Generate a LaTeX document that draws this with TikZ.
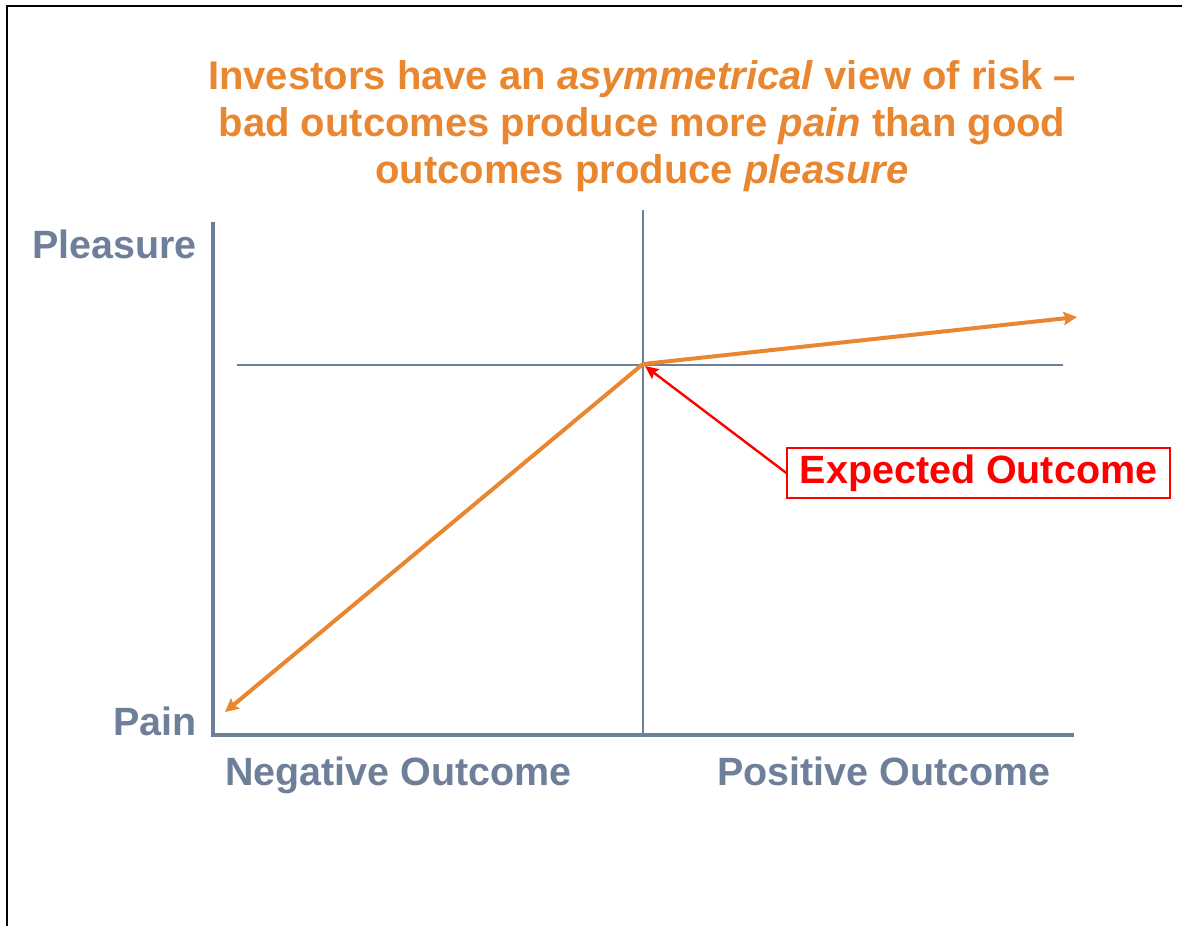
\documentclass[tikz,border=0pt]{standalone}
\usepackage{fontspec}
\setmainfont{Liberation Sans}
\usetikzlibrary{arrows.meta}
\definecolor{riskorange}{RGB}{233,135,48}
\definecolor{axisgray}{RGB}{110,127,153}

\begin{document}
\begin{tikzpicture}[
      x=0.75pt, y=-0.75pt,
      >=Stealth,
      headline/.style={
        align=center,
        inner sep=0pt,
        text=riskorange,
        font=\fontsize{30}{35.25}\selectfont\bfseries,
      },
      axislabel/.style={
        inner sep=0pt,
        text=axisgray,
        font=\fontsize{29.6}{35.25}\selectfont\bfseries,
      },
      axisline/.style={
        draw=axisgray,
        line width=2.3pt,
      },
      guideline/.style={
        draw=axisgray,
        line width=1pt,
      },
      curve/.style={
        draw=riskorange,
        line width=3pt,
        -{Stealth[length=10pt,width=10pt,inset=1.5pt]},
      },
      callout/.style={
        rectangle,
        draw=red,
        line width=1.2pt,
        text=red,
        minimum width=287pt,
        minimum height=37.5pt,
        font=\fontsize{29.6}{35.25}\selectfont\bfseries,
      }
    ]
      \useasboundingbox (0,0) rectangle (1182,926);

      % frame of the slide
      \draw[line width=1.6pt] (7,926) -- (7,6) -- (1182,6);

      % title
      \node[headline, anchor=north] (title) at (642,60)
        {Investors have an \textit{asymmetrical} view of risk --\\
         bad outcomes produce more \textit{pain} than good\\
         outcomes produce \textit{pleasure}};

      % axes and guides
      \coordinate (ytop) at (213,222);
      \coordinate (corner) at (213,735);
      \coordinate (xend) at (1074,735);
      \coordinate (vtop) at (643,210);
      \coordinate (vbot) at (643,735);
      \coordinate (hleft) at (237,365);
      \coordinate (hright) at (1063,365);
      \coordinate (expect) at (643,364);
      \coordinate (lossend) at (225,712);
      \coordinate (gainend) at (1077,317);

      \draw[guideline] (vtop) -- (vbot);
      \draw[guideline] (hleft) -- (hright);
      \draw[axisline] (ytop) -- (corner) -- (xend);

      % axis labels
      \node[axislabel, anchor=base east] (pleasure) at (197,258) {Pleasure};
      \node[axislabel, anchor=base east] (pain) at (197,735) {Pain};
      \node[axislabel, anchor=base west] (neg) at (225,785) {Negative Outcome};
      \node[axislabel, anchor=base west] (pos) at (717,785) {Positive Outcome};

      % value curve
      \draw[curve] (expect) -- (lossend);
      \draw[curve] (expect) -- (gainend);

      % callout
      \node[callout] (expected) at (978.5,473) {Expected Outcome};
      \draw[red, line width=1.8pt, -{Stealth[length=10pt,width=9pt,inset=1.5pt]}]
        (expected.west) -- ([shift={(2,2)}]expect);
    \end{tikzpicture}
\end{document}
